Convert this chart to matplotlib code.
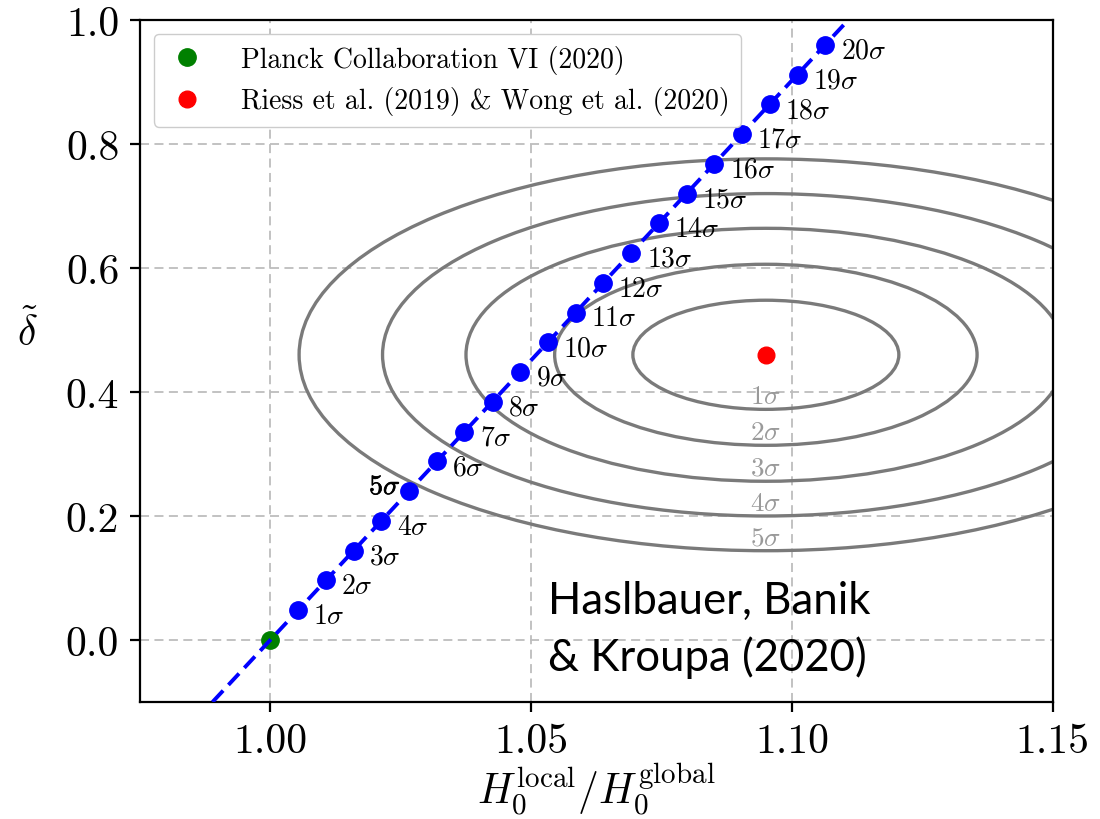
import matplotlib
matplotlib.use("Agg")
import matplotlib.pyplot as plt
from matplotlib.patches import Ellipse
import matplotlib.patheffects as pe

plt.rcParams['mathtext.fontset'] = 'cm'
plt.rcParams['font.family'] = ['cmr10', 'DejaVu Serif']
plt.rcParams['axes.formatter.use_mathtext'] = True
plt.rcParams['axes.unicode_minus'] = False

# ---- data ----
sigma_levels = [1, 2, 3, 4, 5, 6, 7, 8, 9, 10, 11, 12, 13, 14, 15, 16, 17, 18, 19, 20]
track_x = [1.0053, 1.0106, 1.0160, 1.0213, 1.0266, 1.0319, 1.0372, 1.0426, 1.0479, 1.0532,
           1.0585, 1.0638, 1.0692, 1.0745, 1.0798, 1.0851, 1.0904, 1.0958, 1.1011, 1.1064]
track_y = [0.048, 0.096, 0.144, 0.192, 0.240, 0.288, 0.336, 0.384, 0.432, 0.480,
           0.528, 0.576, 0.624, 0.672, 0.720, 0.768, 0.816, 0.864, 0.912, 0.960]
line_x = [0.9889, 1.1108]
line_y = [-0.100, 1.000]

planck_x, planck_y = 1.000, 0.000
local_x, local_y = 1.095, 0.460

contour_levels = [1, 2, 3, 4, 5]
semi_x = [0.0255, 0.0405, 0.0575, 0.0735, 0.0895]
semi_y = [0.088, 0.146, 0.204, 0.260, 0.316]

xticks = [1.00, 1.05, 1.10, 1.15]
yticks = [0.0, 0.2, 0.4, 0.6, 0.8, 1.0]

# ---- figure ----
fig = plt.figure(figsize=(11, 8.2), dpi=100)
ax = fig.add_axes([0.1273, 0.1427, 0.8297, 0.8317])

ax.set_xlim(0.975, 1.15)
ax.set_ylim(-0.1, 1.0)
ax.set_xticks(xticks)
ax.set_yticks(yticks)
ax.set_xticklabels([f"{v:.2f}" for v in xticks])
ax.set_yticklabels([f"{v:.1f}" for v in yticks])
ax.grid(True, linestyle=(0, (5, 3)), color='#bdbdbd', linewidth=1.3)
ax.set_axisbelow(True)
for s in ax.spines.values():
    s.set_linewidth(1.6)
ax.tick_params(axis='both', direction='out', length=7, width=1.6, labelsize=30, pad=8)

# contour ellipses
for n, a, b in zip(contour_levels, semi_x, semi_y):
    ax.add_patch(Ellipse((local_x, local_y), 2 * a, 2 * b, fill=False,
                         edgecolor='#7a7a7a', linewidth=2.4, zorder=2))
    ax.annotate(rf'${n}\sigma$', xy=(local_x, local_y - b), xytext=(0, 1),
                textcoords='offset points', ha='center', va='bottom',
                color='#9a9a9a', fontsize=19.5, zorder=3)

# track
ax.plot(line_x, line_y, color='blue', linestyle=(0, (4, 2)), linewidth=2.8, zorder=4)
ax.plot(track_x, track_y, 'o', color='blue', markersize=12.5, zorder=5)
for n, x, y in zip(sigma_levels, track_x, track_y):
    if n == 5:
        ax.annotate(r'$\mathbf{5}\sigma$', xy=(x, y), xytext=(-6, 3),
                    textcoords='offset points', ha='right', va='center',
                    fontsize=20, color='black', zorder=6,
                    path_effects=[pe.withStroke(linewidth=0.5, foreground='black')])
    else:
        ax.annotate(rf'${n}\sigma$', xy=(x, y), xytext=(11, -4),
                    textcoords='offset points', ha='left', va='center',
                    fontsize=20, color='black', zorder=6)

ax.plot([planck_x], [planck_y], 'o', color='green', markersize=12.5, zorder=3.5,
        label='Planck Collaboration VI (2020)')
ax.plot([local_x], [local_y], 'o', color='red', markersize=12, zorder=5,
        label='Riess et al. (2019) & Wong et al. (2020)')

leg = ax.legend(loc='upper left', fontsize=20, frameon=True, fancybox=True,
                edgecolor='#cccccc', framealpha=1.0, borderpad=0.4,
                handletextpad=1.15, handlelength=1.6, labelspacing=0.45,
                borderaxespad=0.5, numpoints=1)

ax.set_xlabel(r'$H_0^{\rm local}/H_0^{\rm global}$', fontsize=30, labelpad=-1)
fig.text(0.025, 0.595, r'$\tilde{\delta}$', fontsize=30, ha='center', va='center')

ax.text(1.0533, 0.0436, 'Haslbauer, Banik', fontsize=31.5, family='Lato',
        ha='left', va='baseline', zorder=7)
ax.text(1.0533, -0.0485, '& Kroupa (2020)', fontsize=31.5, family='Lato',
        ha='left', va='baseline', zorder=7)

fig.savefig('out.png', dpi=100)
